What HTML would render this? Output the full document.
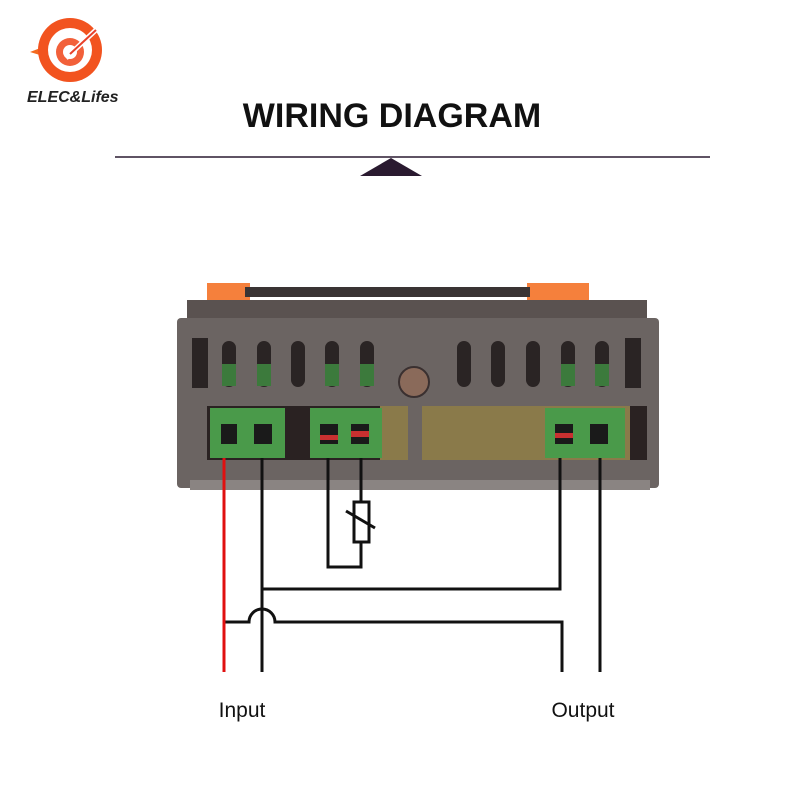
<!DOCTYPE html>
<html><head><meta charset="utf-8"><style>
html,body{margin:0;padding:0;background:#fff;}
svg{display:block;}
</style></head><body>
<svg width="800" height="800" viewBox="0 0 800 800" xmlns="http://www.w3.org/2000/svg">
<rect width="800" height="800" fill="#fff"/>
<path d="M30 52 L48 45 L56 60 Z" fill="#f46a1f"/>
<circle cx="70" cy="50" r="32" fill="#f2531f"/>
<circle cx="70" cy="50" r="22" fill="#fff"/>
<circle cx="70" cy="52" r="14" fill="#f2603a"/>
<circle cx="70" cy="52" r="7" fill="#fff"/>
<line x1="66" y1="58" x2="98" y2="28" stroke="#fff" stroke-width="5"/>
<line x1="70" y1="54" x2="96" y2="30" stroke="#e8402a" stroke-width="2"/>
<text x="27" y="102" font-family="Liberation Sans, sans-serif" font-size="16" font-weight="bold" font-style="italic" fill="#222">ELEC&amp;Lifes</text>
<text x="392" y="127" text-anchor="middle" font-family="Liberation Sans, sans-serif" font-size="34" font-weight="bold" fill="#111">WIRING DIAGRAM</text>
<line x1="115" y1="157" x2="710" y2="157" stroke="#2a1a30" stroke-width="1.5"/>
<polygon points="360,176 391,158 422,176" fill="#2a1a30"/>
<rect x="207" y="283" width="43" height="18" fill="#f5803c"/>
<rect x="527" y="283" width="62" height="18" fill="#f5803c"/>
<rect x="245" y="287" width="285" height="10" fill="#3a3434"/>
<rect x="187" y="300" width="460" height="22" fill="#5a5250"/>
<rect x="177" y="318" width="482" height="170" rx="4" fill="#6b6462"/>
<rect x="190" y="480" width="460" height="10" fill="#8a8482"/>
<g fill="#2a2424">
<rect x="222" y="341" width="14" height="46" rx="7"/>
<rect x="257" y="341" width="14" height="46" rx="7"/>
<rect x="291" y="341" width="14" height="46" rx="7"/>
<rect x="325" y="341" width="14" height="46" rx="7"/>
<rect x="360" y="341" width="14" height="46" rx="7"/>
<rect x="457" y="341" width="14" height="46" rx="7"/>
<rect x="491" y="341" width="14" height="46" rx="7"/>
<rect x="526" y="341" width="14" height="46" rx="7"/>
<rect x="561" y="341" width="14" height="46" rx="7"/>
<rect x="595" y="341" width="14" height="46" rx="7"/>
<rect x="192" y="338" width="16" height="50"/>
<rect x="625" y="338" width="16" height="50"/>
</g>
<g fill="#3c7a3c">
<rect x="222" y="364" width="14" height="22"/><rect x="257" y="364" width="14" height="22"/>
<rect x="325" y="364" width="14" height="22"/><rect x="360" y="364" width="14" height="22"/>
<rect x="561" y="364" width="14" height="22"/><rect x="595" y="364" width="14" height="22"/>
</g>
<circle cx="414" cy="382" r="15" fill="#8a6a5a" stroke="#3a3030" stroke-width="2"/>
<rect x="207" y="406" width="440" height="54" fill="#2a2222"/>
<rect x="380" y="406" width="250" height="54" fill="#8a7a4a"/>
<rect x="408" y="406" width="14" height="54" fill="#6b6462"/>
<rect x="210" y="408" width="75" height="50" fill="#4a9a4a"/>
<rect x="310" y="408" width="72" height="50" fill="#4a9a4a"/>
<rect x="545" y="408" width="80" height="50" fill="#4a9a4a"/>
<g fill="#1a1a1a">
<rect x="221" y="424" width="16" height="20"/><rect x="254" y="424" width="18" height="20"/>
<rect x="320" y="424" width="18" height="20"/><rect x="351" y="424" width="18" height="20"/>
<rect x="555" y="424" width="18" height="20"/><rect x="590" y="424" width="18" height="20"/>
</g>
<g fill="#c83030"><rect x="320" y="435" width="18" height="5"/><rect x="351" y="431" width="18" height="6"/><rect x="555" y="433" width="18" height="5"/></g>
<g stroke="#111" stroke-width="3" fill="none">
<line x1="262" y1="458" x2="262" y2="672"/>
<line x1="600" y1="458" x2="600" y2="672"/>
<polyline points="328,458 328,567 361,567 361,458"/>
<rect x="354" y="502" width="15" height="40" fill="#fff"/>
<line x1="346" y1="511" x2="375" y2="528"/>
<polyline points="262,589 560,589 560,458"/>
<path d="M224 622 L249 622 A13 13 0 0 1 275 622 L562 622 L562 672"/>
</g>
<line x1="224" y1="458" x2="224" y2="672" stroke="#e01010" stroke-width="3"/>
<text x="242" y="717" text-anchor="middle" font-family="Liberation Sans, sans-serif" font-size="21" fill="#111">Input</text>
<text x="583" y="717" text-anchor="middle" font-family="Liberation Sans, sans-serif" font-size="21" fill="#111">Output</text>
</svg>
</body></html>
